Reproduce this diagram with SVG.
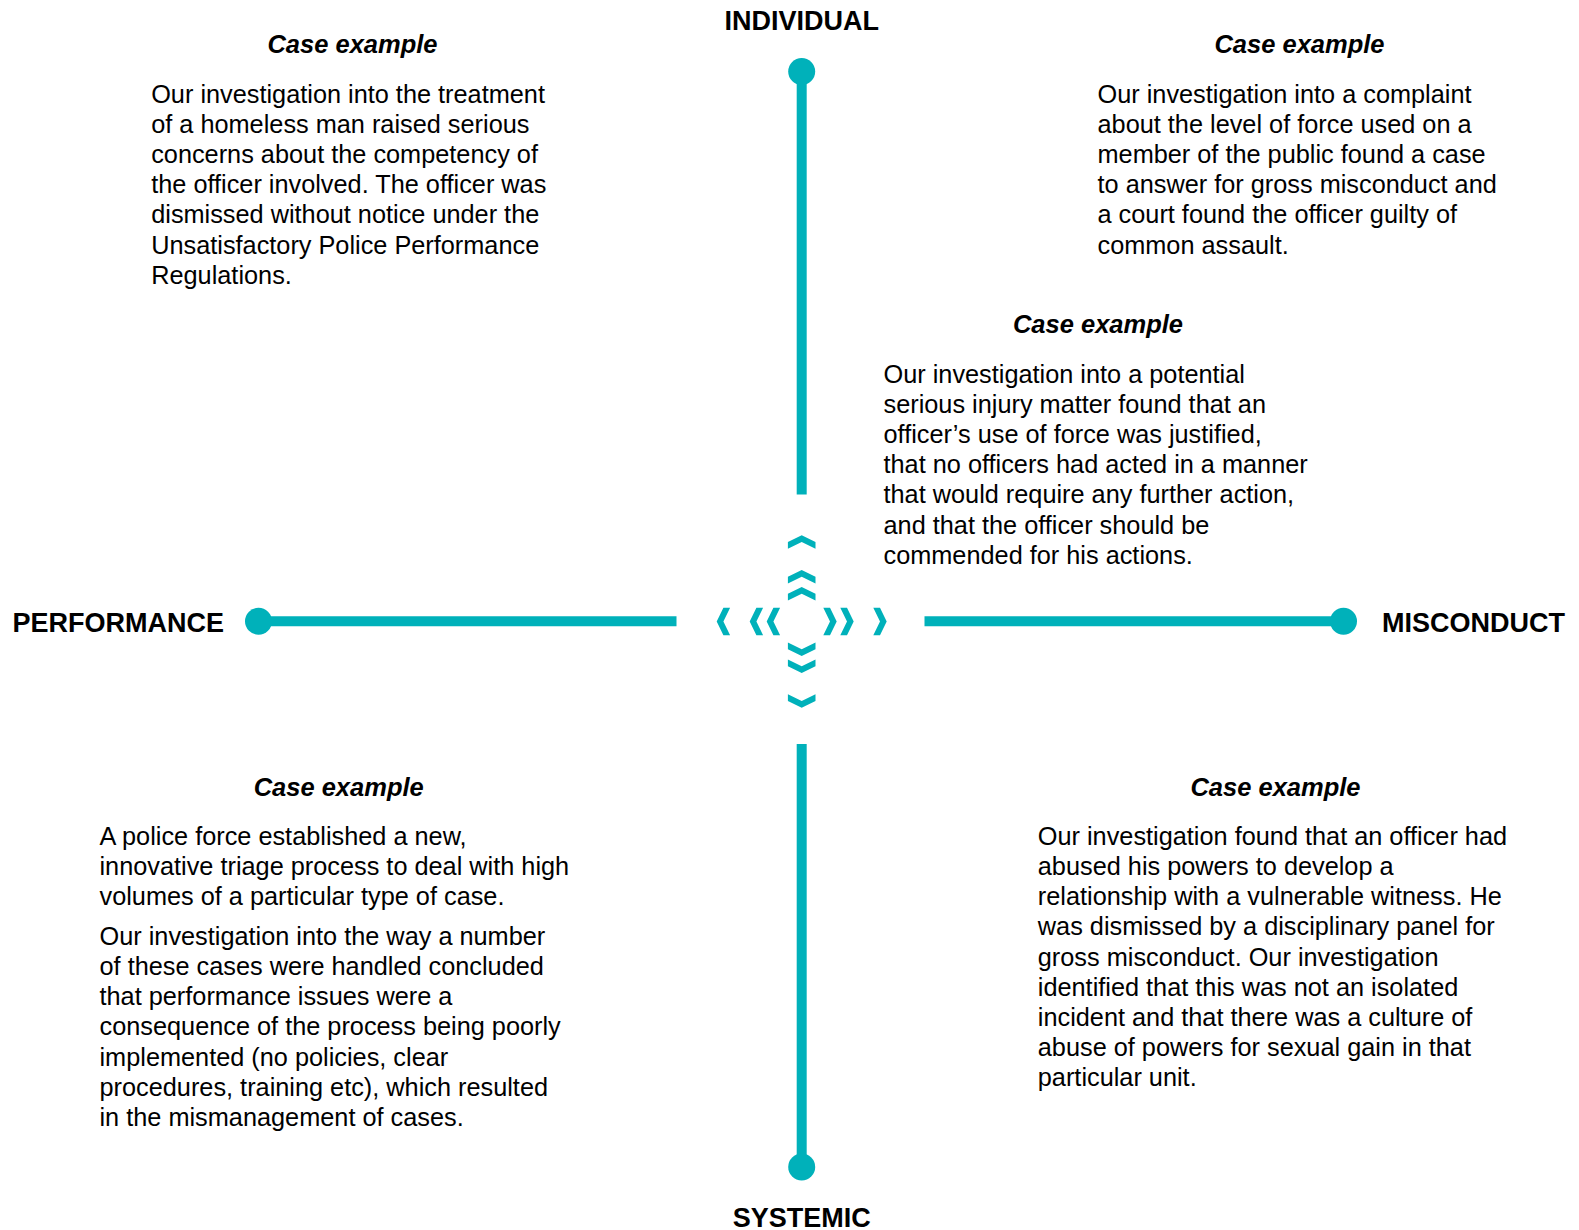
<svg xmlns="http://www.w3.org/2000/svg" width="1579" height="1230" viewBox="0 0 1579 1230">
<style>
.axis{stroke:#00B1BA;stroke-width:10;fill:none}
.dot{fill:#00B1BA}
.chev{fill:#00B1BA}
.lbl{font-family:"Liberation Sans",Arial,sans-serif;font-weight:bold;font-size:27px;fill:#000}
.hd{font-family:"Liberation Sans",Arial,sans-serif;font-weight:bold;font-style:italic;font-size:25.5px;fill:#000;text-anchor:middle}
.bd{font-family:"Liberation Sans",Arial,sans-serif;font-size:25.3px;fill:#000}
</style>
<defs>
<polygon id="chv" points="-13.8,6.7 0,0 13.8,6.7 13.8,13.4 0,6.7 -13.8,13.4"/>
</defs>
<rect width="1579" height="1230" fill="#fff"/>
<g id="connectors">
<line class="axis" x1="801.7" y1="71.5" x2="801.7" y2="494.5"/>
<line class="axis" x1="801.7" y1="744" x2="801.7" y2="1167"/>
<line class="axis" x1="258.5" y1="621.3" x2="676.5" y2="621.3"/>
<line class="axis" x1="924.5" y1="621.3" x2="1343" y2="621.3"/>
</g>
<g id="center-chevrons" class="chev">
<use href="#chv" transform="translate(801.7,621.5) rotate(0) translate(0,-86.2)"/>
<use href="#chv" transform="translate(801.7,621.5) rotate(0) translate(0,-51.5)"/>
<use href="#chv" transform="translate(801.7,621.5) rotate(0) translate(0,-34.5)"/>
<use href="#chv" transform="translate(801.7,621.5) rotate(180) translate(0,-86.2)"/>
<use href="#chv" transform="translate(801.7,621.5) rotate(180) translate(0,-51.5)"/>
<use href="#chv" transform="translate(801.7,621.5) rotate(180) translate(0,-34.5)"/>
<use href="#chv" transform="translate(801.7,621.5) rotate(270) translate(0,-85)"/>
<use href="#chv" transform="translate(801.7,621.5) rotate(270) translate(0,-52)"/>
<use href="#chv" transform="translate(801.7,621.5) rotate(270) translate(0,-35)"/>
<use href="#chv" transform="translate(801.7,621.5) rotate(90) translate(0,-85)"/>
<use href="#chv" transform="translate(801.7,621.5) rotate(90) translate(0,-52)"/>
<use href="#chv" transform="translate(801.7,621.5) rotate(90) translate(0,-35)"/>
</g>
<g id="node-individual">
<circle class="dot" cx="801.7" cy="71.5" r="13.5"/>
<text class="lbl" x="801.7" y="29.5" text-anchor="middle">INDIVIDUAL</text>
</g>
<g id="node-systemic">
<circle class="dot" cx="801.7" cy="1167" r="13.5"/>
<text class="lbl" x="801.7" y="1227" text-anchor="middle">SYSTEMIC</text>
</g>
<g id="node-performance">
<circle class="dot" cx="258.5" cy="621.3" r="13.5"/>
<text class="lbl" x="12.5" y="632">PERFORMANCE</text>
</g>
<g id="node-misconduct">
<circle class="dot" cx="1343.5" cy="621.3" r="13.5"/>
<text class="lbl" x="1382" y="632">MISCONDUCT</text>
</g>
<g id="case-top-left">
<text class="hd" x="352.5" y="53.2">Case example</text>
<text class="bd" x="151.2" y="102.5">Our investigation into the treatment</text>
<text class="bd" x="151.2" y="132.7">of a homeless man raised serious</text>
<text class="bd" x="151.2" y="162.9">concerns about the competency of</text>
<text class="bd" x="151.2" y="193.1">the officer involved. The officer was</text>
<text class="bd" x="151.2" y="223.3">dismissed without notice under the</text>
<text class="bd" x="151.2" y="253.5">Unsatisfactory Police Performance</text>
<text class="bd" x="151.2" y="283.7">Regulations.</text>
</g>
<g id="case-top-right">
<text class="hd" x="1299.5" y="53.2">Case example</text>
<text class="bd" x="1097.5" y="102.5">Our investigation into a complaint</text>
<text class="bd" x="1097.5" y="132.7">about the level of force used on a</text>
<text class="bd" x="1097.5" y="162.9">member of the public found a case</text>
<text class="bd" x="1097.5" y="193.1">to answer for gross misconduct and</text>
<text class="bd" x="1097.5" y="223.3">a court found the officer guilty of</text>
<text class="bd" x="1097.5" y="253.5">common assault.</text>
</g>
<g id="case-middle-right">
<text class="hd" x="1098" y="333.2">Case example</text>
<text class="bd" x="883.5" y="382.5">Our investigation into a potential</text>
<text class="bd" x="883.5" y="412.7">serious injury matter found that an</text>
<text class="bd" x="883.5" y="442.9">officer’s use of force was justified,</text>
<text class="bd" x="883.5" y="473.1">that no officers had acted in a manner</text>
<text class="bd" x="883.5" y="503.3">that would require any further action,</text>
<text class="bd" x="883.5" y="533.5">and that the officer should be</text>
<text class="bd" x="883.5" y="563.7">commended for his actions.</text>
</g>
<g id="case-bottom-left">
<text class="hd" x="338.7" y="795.5">Case example</text>
<text class="bd" x="99.5" y="844.8">A police force established a new,</text>
<text class="bd" x="99.5" y="875">innovative triage process to deal with high</text>
<text class="bd" x="99.5" y="905.2">volumes of a particular type of case.</text>
<text class="bd" x="99.5" y="944.8">Our investigation into the way a number</text>
<text class="bd" x="99.5" y="975">of these cases were handled concluded</text>
<text class="bd" x="99.5" y="1005.2">that performance issues were a</text>
<text class="bd" x="99.5" y="1035.4">consequence of the process being poorly</text>
<text class="bd" x="99.5" y="1065.6">implemented (no policies, clear</text>
<text class="bd" x="99.5" y="1095.8">procedures, training etc), which resulted</text>
<text class="bd" x="99.5" y="1126">in the mismanagement of cases.</text>
</g>
<g id="case-bottom-right">
<text class="hd" x="1275.5" y="795.5">Case example</text>
<text class="bd" x="1037.8" y="844.8">Our investigation found that an officer had</text>
<text class="bd" x="1037.8" y="875">abused his powers to develop a</text>
<text class="bd" x="1037.8" y="905.2">relationship with a vulnerable witness. He</text>
<text class="bd" x="1037.8" y="935.4">was dismissed by a disciplinary panel for</text>
<text class="bd" x="1037.8" y="965.6">gross misconduct. Our investigation</text>
<text class="bd" x="1037.8" y="995.8">identified that this was not an isolated</text>
<text class="bd" x="1037.8" y="1026">incident and that there was a culture of</text>
<text class="bd" x="1037.8" y="1056.2">abuse of powers for sexual gain in that</text>
<text class="bd" x="1037.8" y="1086.4">particular unit.</text>
</g>
</svg>
